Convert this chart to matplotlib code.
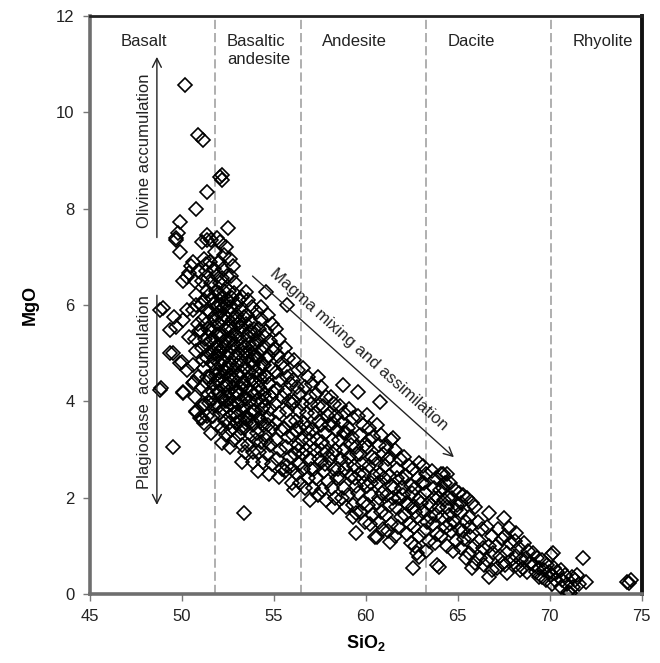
import numpy as np
import matplotlib
matplotlib.use("Agg")
import matplotlib.pyplot as plt

plt.rcParams['font.family'] = ['Liberation Sans', 'DejaVu Sans']
plt.rcParams['mathtext.fontset'] = 'custom'
plt.rcParams['mathtext.rm'] = 'Liberation Sans'
plt.rcParams['mathtext.bf'] = 'Liberation Sans:bold'

# (SiO2, MgO) pairs, grouped by compositional field
basalt = [
    (48.8, 5.89), (49.0, 5.93), (48.8, 4.23), (48.9, 4.27), (49.35, 5.0), (49.5, 5.0),
    (49.5, 3.05), (49.7, 7.39), (49.7, 7.34), (49.8, 7.5), (49.9, 7.72), (49.9, 7.1),
    (50.16, 10.56), (50.0, 4.81), (49.9, 4.8), (50.05, 4.17), (50.05, 4.19), (50.3, 6.58),
    (50.5, 6.8), (50.05, 6.5), (50.4, 6.66), (50.3, 5.9), (50.4, 5.33), (50.05, 5.68),
    (49.6, 5.75), (49.7, 5.54), (49.35, 5.48), (50.3, 4.65), (50.6, 4.38), (50.8, 8.0),
    (50.9, 9.52), (51.14, 9.42), (51.4, 8.34), (51.36, 7.45), (51.36, 7.34),
    (50.6, 6.9), (50.7, 6.5), (50.8, 6.2), (50.6, 5.9), (50.9, 5.6), (50.7, 5.3),
    (50.8, 5.05), (50.6, 4.75), (50.9, 4.5), (50.7, 4.1), (50.8, 3.8), (51.0, 3.65),
    (50.9, 6.7), (50.75, 6.0), (50.95, 5.45), (50.65, 4.4), (50.8, 3.78), (51.1, 3.65),
    (51.1, 7.3), (51.2, 6.95), (51.3, 6.7), (51.1, 6.5), (51.4, 6.3), (51.2, 6.1),
    (51.35, 5.9), (51.15, 5.7), (51.45, 5.5), (51.25, 5.3), (51.1, 5.1), (51.4, 4.9),
    (51.2, 4.7), (51.35, 4.5), (51.1, 4.3), (51.45, 4.15), (51.25, 3.95), (51.4, 3.7),
    (51.2, 3.55), (51.3, 6.85), (51.45, 6.55), (51.05, 6.0), (51.3, 5.6), (51.05, 5.45),
    (51.4, 5.2), (51.15, 4.85), (51.3, 4.4), (51.1, 3.9), (51.5, 3.96),
    (51.6, 7.35), (51.55, 6.9), (51.75, 6.75), (51.6, 6.45), (51.65, 6.15), (51.55, 5.85),
    (51.7, 5.55), (51.6, 5.25), (51.65, 4.8), (51.55, 4.5), (51.75, 4.35), (51.6, 4.05),
    (51.7, 3.7), (51.6, 3.35), (51.7, 5.0), (51.55, 5.45), (51.9, 7.38), (51.8, 7.1),
    (51.75, 6.05), (51.7, 5.3), (51.75, 4.9), (51.7, 4.2), (51.5, 6.2), (51.5, 5.0),
]

basaltic_andesite = [
    (51.9, 6.6), (51.85, 6.3), (51.95, 6.0), (51.8, 5.7), (51.9, 5.4), (51.8, 5.1),
    (51.95, 4.95), (51.85, 4.65), (51.95, 4.2), (51.8, 3.9), (51.9, 3.5), (51.85, 5.95),
    (51.9, 4.45), (51.85, 5.8), (51.9, 5.15), (51.85, 4.55),
    (52.17, 8.69), (52.2, 8.59), (52.1, 8.65), (52.5, 7.6), (52.3, 7.03), (52.1, 7.3),
    (52.4, 7.2), (52.05, 6.9), (52.25, 6.75), (52.45, 6.6), (52.1, 6.45), (52.3, 6.3),
    (52.15, 6.15), (52.4, 6.0), (52.05, 5.85), (52.25, 5.7), (52.45, 5.55), (52.1, 5.4),
    (52.35, 5.25), (52.2, 5.1), (52.45, 4.95), (52.05, 4.8), (52.3, 4.65), (52.15, 4.5),
    (52.4, 4.35), (52.05, 4.2), (52.25, 4.05), (52.45, 3.9), (52.1, 3.75), (52.35, 3.6),
    (52.2, 3.45), (52.2, 3.13), (52.4, 3.3), (52.3, 5.95), (52.1, 5.05), (52.4, 4.6),
    (52.2, 6.55), (52.35, 5.5), (52.05, 4.45), (52.25, 3.85),
    (52.0, 6.25), (52.15, 6.0), (52.3, 5.8), (52.0, 5.6), (52.2, 5.35), (52.4, 5.15),
    (52.0, 5.0), (52.25, 4.85), (52.45, 4.7), (52.1, 4.6), (52.3, 4.3), (52.15, 4.1),
    (52.4, 4.0), (52.0, 3.9),
    (52.8, 6.8), (52.6, 6.95), (52.7, 6.6), (52.9, 6.45), (52.55, 6.3), (52.75, 6.15),
    (52.95, 6.0), (52.6, 5.85), (52.8, 5.7), (52.65, 5.55), (52.9, 5.4), (52.55, 5.25),
    (52.75, 5.1), (52.95, 4.95), (52.6, 4.8), (52.85, 4.65), (52.7, 4.5), (52.55, 4.35),
    (52.9, 4.2), (52.65, 4.05), (52.8, 3.9), (52.6, 3.7), (52.95, 3.55), (52.7, 3.4),
    (52.85, 3.2), (52.6, 3.05), (52.7, 5.3), (52.85, 6.25), (52.6, 4.55), (52.95, 5.75),
    (52.8, 4.3),
    (52.5, 6.1), (52.65, 5.95), (52.5, 5.7), (52.7, 5.45), (52.85, 5.2), (52.5, 5.0),
    (52.65, 4.7), (52.85, 4.45), (52.5, 4.2), (52.7, 3.95), (52.9, 3.75), (52.55, 3.55),
    (53.3, 6.16), (53.5, 6.27), (53.1, 6.1), (53.2, 5.9), (53.4, 5.75), (53.05, 5.6),
    (53.3, 5.45), (53.15, 5.3), (53.45, 5.15), (53.05, 5.0), (53.25, 4.85), (53.4, 4.7),
    (53.1, 4.55), (53.35, 4.4), (53.2, 4.25), (53.45, 4.1), (53.05, 3.95), (53.3, 3.8),
    (53.15, 3.6), (53.4, 3.45), (53.1, 3.3), (53.3, 3.1), (53.3, 2.74), (53.45, 2.95),
    (53.4, 1.68), (53.2, 5.55), (53.35, 5.0), (53.1, 4.15), (53.45, 3.65),
    (53.0, 5.8), (53.15, 5.65), (53.0, 5.35), (53.25, 5.15), (53.0, 4.75), (53.2, 4.6),
    (53.3, 4.35), (53.0, 4.2), (53.2, 4.0), (53.4, 3.9), (53.0, 3.7), (53.25, 3.45),
    (53.6, 6.1), (53.8, 5.95), (53.55, 5.8), (53.75, 5.65), (53.95, 5.5), (53.6, 5.35),
    (53.85, 5.2), (53.7, 5.05), (53.55, 4.9), (53.9, 4.75), (53.65, 4.6), (53.8, 4.45),
    (53.55, 4.3), (53.95, 4.15), (53.7, 4.0), (53.85, 3.8), (53.6, 3.65), (53.9, 3.5),
    (53.75, 3.3), (53.6, 3.1), (53.85, 2.95), (53.9, 2.74), (53.7, 5.45), (53.95, 4.95),
    (53.5, 5.6), (53.65, 5.2), (53.5, 5.0), (53.8, 4.85), (53.6, 4.45), (53.75, 4.2),
    (53.5, 4.05), (53.7, 3.75), (53.5, 3.55), (53.8, 3.6),
    (54.1, 5.85), (54.3, 5.7), (54.2, 5.5), (54.45, 5.35), (54.05, 5.2), (54.3, 5.05),
    (54.15, 4.9), (54.4, 4.75), (54.05, 4.6), (54.3, 4.45), (54.2, 4.3), (54.45, 4.15),
    (54.1, 4.0), (54.35, 3.85), (54.2, 3.65), (54.45, 3.5), (54.1, 3.35), (54.3, 3.15),
    (54.2, 2.95), (54.4, 2.75), (54.15, 2.55), (54.3, 5.95), (54.25, 4.55),
    (54.0, 5.4), (54.15, 5.25), (54.0, 4.95), (54.25, 4.7), (54.0, 4.4), (54.15, 4.2),
    (54.35, 4.0), (54.0, 3.8), (54.3, 3.6), (54.05, 3.2),
    (54.6, 6.27), (54.7, 5.8), (54.9, 5.6), (54.6, 5.45), (54.8, 5.25), (54.95, 5.05),
    (54.65, 4.9), (54.85, 4.7), (54.55, 4.55), (54.75, 4.35), (54.95, 4.2), (54.6, 4.05),
    (54.8, 3.85), (54.7, 3.65), (54.9, 3.45), (54.55, 3.3), (54.8, 3.1), (54.65, 2.9),
    (54.9, 2.7), (54.75, 2.5),
    (54.5, 5.15), (54.7, 4.95), (54.5, 4.75), (54.65, 4.5), (54.85, 4.1), (54.5, 3.9),
    (54.7, 3.5), (54.6, 3.2),
    (55.1, 5.5), (55.3, 5.3), (55.05, 5.1), (55.25, 4.95), (55.45, 4.8), (55.1, 4.6),
    (55.35, 4.45), (55.2, 4.25), (55.45, 4.1), (55.05, 3.95), (55.3, 3.75), (55.15, 3.55),
    (55.4, 3.4), (55.1, 3.2), (55.35, 3.0), (55.2, 2.8), (55.3, 2.43), (55.45, 2.6),
    (55.7, 6.0), (55.6, 5.1), (55.8, 4.9), (55.55, 4.7), (55.75, 4.5), (55.95, 4.35),
    (55.6, 4.2), (55.85, 4.0), (55.7, 3.8), (55.9, 3.6), (55.55, 3.45), (55.8, 3.25),
    (55.65, 3.05), (55.9, 2.85), (55.75, 2.65), (56.0, 2.3), (55.6, 2.55),
    (56.1, 4.85), (56.3, 4.65), (56.05, 4.45), (56.25, 4.3), (56.45, 4.15), (56.1, 4.0),
    (56.35, 3.8), (56.2, 3.6), (56.45, 3.45), (56.05, 3.3), (56.3, 3.1), (56.15, 2.9),
    (56.4, 2.7), (56.25, 2.5), (56.45, 2.3), (56.1, 2.15),
    (56.0, 3.95), (56.2, 3.4), (56.4, 3.0), (56.0, 2.6),
]

andesite = [
    (56.6, 4.7), (56.85, 4.5), (56.7, 4.3), (56.95, 4.1), (56.55, 3.95), (56.8, 3.75),
    (56.65, 3.55), (56.9, 3.35), (56.55, 3.2), (56.75, 3.0), (56.95, 2.8), (56.6, 2.6),
    (56.85, 2.4), (56.7, 2.2), (56.96, 1.95), (56.8, 3.45), (56.6, 2.9),
    (57.4, 4.5), (57.1, 4.35), (57.3, 4.15), (57.05, 3.95), (57.25, 3.75), (57.45, 3.6),
    (57.1, 3.4), (57.35, 3.2), (57.2, 3.0), (57.45, 2.8), (57.05, 2.6), (57.3, 2.4),
    (57.15, 2.2), (57.4, 2.05), (57.0, 3.2), (57.2, 2.6), (57.4, 3.9),
    (57.6, 4.3), (57.85, 4.1), (57.7, 3.9), (57.95, 3.7), (57.55, 3.5), (57.8, 3.35),
    (57.65, 3.15), (57.9, 2.95), (57.55, 2.75), (57.75, 2.55), (57.95, 2.35), (57.65, 2.15),
    (57.85, 1.95), (57.6, 3.0), (57.8, 2.7),
    (58.1, 4.1), (58.3, 3.95), (58.05, 3.75), (58.25, 3.55), (58.45, 3.4), (58.15, 3.2),
    (58.35, 3.0), (58.05, 2.8), (58.3, 2.6), (58.45, 2.4), (58.15, 2.2), (58.35, 2.0),
    (58.2, 1.8), (58.0, 3.5), (58.2, 2.9), (58.4, 3.7),
    (58.75, 4.34), (58.6, 3.9), (58.85, 3.75), (58.7, 3.55), (58.95, 3.35), (58.55, 3.2),
    (58.8, 3.0), (58.65, 2.8), (58.9, 2.6), (58.6, 2.4), (58.85, 2.2), (58.7, 2.0),
    (58.95, 1.8), (58.5, 2.6), (58.8, 3.35),
    (59.57, 4.19), (59.1, 3.85), (59.3, 3.65), (59.05, 3.45), (59.25, 3.25), (59.45, 3.05),
    (59.1, 2.85), (59.35, 2.65), (59.2, 2.45), (59.45, 2.25), (59.05, 2.05), (59.3, 1.85),
    (59.5, 1.68), (59.3, 1.6), (59.5, 1.27), (59.0, 2.7), (59.2, 3.1), (59.4, 2.4),
    (60.1, 3.71), (59.6, 3.7), (59.85, 3.5), (59.7, 3.3), (59.95, 3.1), (59.55, 2.9),
    (59.8, 2.7), (59.65, 2.5), (59.9, 2.3), (59.6, 2.1), (59.85, 1.9), (59.7, 1.7),
    (59.95, 1.5), (59.7, 2.9), (59.9, 2.5),
    (60.76, 3.98), (60.2, 3.45), (60.4, 3.25), (60.1, 3.05), (60.35, 2.85), (60.2, 2.65),
    (60.45, 2.45), (60.05, 2.25), (60.3, 2.05), (60.15, 1.85), (60.4, 1.65), (60.25, 1.45),
    (60.5, 1.18), (60.2, 3.2), (60.3, 2.3), (60.5, 2.8),
    (60.6, 3.5), (60.85, 3.3), (60.7, 3.1), (60.95, 2.9), (60.55, 2.7), (60.8, 2.5),
    (60.65, 2.3), (60.9, 2.1), (60.6, 1.9), (60.85, 1.7), (60.7, 1.5), (60.6, 1.18),
    (60.95, 1.35), (60.7, 2.0),
    (61.47, 3.24), (61.4, 3.2), (61.1, 3.05), (61.3, 2.85), (61.05, 2.65), (61.25, 2.45),
    (61.45, 2.25), (61.15, 2.05), (61.35, 1.85), (61.1, 1.65), (61.4, 1.45), (61.3, 1.08),
    (61.2, 1.3), (61.0, 2.4), (61.2, 2.8),
    (61.6, 3.0), (61.85, 2.8), (61.7, 2.6), (61.95, 2.4), (61.55, 2.2), (61.8, 2.0),
    (61.65, 1.8), (61.9, 1.6), (61.75, 1.4), (61.6, 1.2), (61.5, 2.0), (61.7, 2.4),
    (62.1, 2.85), (62.35, 2.65), (62.2, 2.45), (62.45, 2.25), (62.05, 2.05), (62.3, 1.85),
    (62.15, 1.65), (62.4, 1.45), (62.25, 1.25), (62.45, 1.05), (62.0, 2.2), (62.2, 1.9),
    (62.9, 2.72), (62.6, 2.6), (62.85, 2.4), (62.7, 2.2), (62.95, 2.0), (62.55, 1.8),
    (62.8, 1.6), (62.65, 1.4), (62.9, 1.2), (62.55, 0.54), (62.9, 0.77), (62.8, 0.85),
    (62.7, 1.0), (62.5, 2.1), (62.7, 1.7),
    (63.1, 2.65), (63.05, 2.3), (63.25, 2.1), (63.1, 1.7), (63.2, 1.3), (63.0, 1.9),
    (63.2, 2.3),
]

dacite = [
    (63.3, 2.5), (63.45, 1.9), (63.35, 1.5), (63.45, 1.1), (63.9, 0.6), (63.3, 0.9),
    (63.6, 2.55), (63.85, 2.4), (63.7, 2.2), (63.95, 2.0), (63.55, 1.85), (63.8, 1.65),
    (63.65, 1.45), (63.9, 1.25), (63.75, 1.05), (64.0, 0.56), (63.5, 1.6), (63.7, 2.0),
    (64.1, 2.5), (64.2, 2.5), (64.4, 2.5), (64.3, 2.3), (64.05, 2.15), (64.25, 1.95),
    (64.45, 1.8), (64.15, 1.6), (64.35, 1.4), (64.1, 1.2), (64.4, 1.0), (64.0, 1.8),
    (64.2, 2.2),
    (64.6, 2.3), (64.85, 2.15), (64.7, 2.0), (64.95, 1.85), (64.55, 1.65), (64.8, 1.5),
    (64.65, 1.3), (64.9, 1.1), (64.75, 0.9), (64.5, 2.0), (64.6, 1.45), (64.9, 1.75),
    (65.1, 2.1), (65.3, 2.05), (65.5, 2.0), (65.2, 1.7), (65.45, 1.5), (65.1, 1.35),
    (65.35, 1.15), (65.2, 0.95), (65.45, 0.75), (65.2, 1.9), (65.3, 1.3),
    (65.8, 1.9), (65.65, 1.39), (65.95, 1.8), (65.7, 1.2), (65.9, 1.0), (65.6, 0.85),
    (65.8, 0.54), (65.95, 0.65), (65.6, 1.6),
    (66.1, 1.5), (66.3, 1.35), (66.15, 1.1), (66.4, 0.95), (66.2, 0.75), (66.45, 0.6),
    (66.7, 1.68), (66.6, 1.4), (66.85, 1.2), (66.7, 1.0), (66.95, 0.85), (66.6, 0.7),
    (66.7, 0.35), (66.85, 0.5),
    (67.2, 1.35), (67.4, 1.15), (67.1, 1.0), (67.3, 0.8), (67.45, 0.65), (67.15, 0.55),
    (67.55, 1.58), (67.8, 1.37), (67.6, 1.2), (67.85, 1.05), (67.7, 0.85), (67.9, 0.7),
    (67.7, 0.44), (67.6, 0.6),
    (68.2, 1.27), (68.1, 1.1), (68.35, 0.95), (68.2, 0.8), (68.45, 0.7), (68.15, 0.6),
    (68.4, 0.5),
    (68.6, 1.05), (68.85, 0.9), (68.7, 0.75), (68.95, 0.65), (68.55, 0.55), (68.8, 0.45),
    (69.1, 0.85), (69.3, 0.75), (69.15, 0.6), (69.4, 0.55), (69.25, 0.45), (69.45, 0.35),
    (69.6, 0.7), (69.85, 0.6), (69.7, 0.5), (69.95, 0.45), (69.6, 0.35), (69.8, 0.3),
    (70.1, 0.81),
]

rhyolite = [
    (70.2, 0.85), (70.25, 0.55), (70.1, 0.4), (70.4, 0.45), (70.3, 0.3), (70.15, 0.2),
    (70.6, 0.5), (70.85, 0.4), (70.7, 0.3), (70.95, 0.2), (70.6, 0.15), (71.0, 0.04),
    (71.1, 0.02), (71.2, 0.35), (71.4, 0.3), (71.3, 0.15), (71.5, 0.4),
    (71.8, 0.75), (72.0, 0.25), (71.6, 0.2), (74.2, 0.25), (74.45, 0.29), (74.3, 0.22),
]

field_bounds = [51.8, 56.5, 63.3, 70.1]
field_names = ["Basalt", "Basaltic\nandesite", "Andesite", "Dacite", "Rhyolite"]
field_label_x = [46.7, 52.45, 57.65, 64.45, 71.25]

pts = np.array(basalt + basaltic_andesite + andesite + dacite + rhyolite)

fig = plt.figure(figsize=(6.6, 6.63), dpi=100)
ax = fig.add_axes([0.136, 0.104, 0.836, 0.872])

for xb in field_bounds:
    ax.axvline(xb, color='#9a9a9a', lw=1.1, dashes=(6, 2.6), zorder=1)

ax.plot(pts[:, 0], pts[:, 1], 'D', mfc='none', mec='black', ms=7.6, mew=1.2, zorder=3)

for name, xl in zip(field_names, field_label_x):
    ax.text(xl, 11.62, name, ha='left', va='top', fontsize=12, color='#222222',
            linespacing=1.25)

# accumulation arrows
arrow = dict(arrowstyle='->', lw=1.0, color='#222222', mutation_scale=16, shrinkA=0, shrinkB=0)
ax.annotate('', xy=(48.65, 11.15), xytext=(48.65, 7.4), arrowprops=arrow)
ax.annotate('', xy=(48.65, 1.85), xytext=(48.65, 6.2), arrowprops=arrow)
ax.annotate('', xy=(64.8, 2.84), xytext=(53.85, 6.6), arrowprops=arrow)

ax.text(48.0, 9.2, "Olivine accumulation", rotation=90, ha='center', va='center',
        fontsize=12, color='#222222')
ax.text(48.0, 4.2, "Plagioclase  accumulation", rotation=90, ha='center', va='center',
        fontsize=12, color='#222222')
ax.text(54.75, 6.62, "Magma mixing and assimilation", rotation=-42, rotation_mode='anchor',
        ha='left', va='baseline', fontsize=12, color='#222222')

ax.set_xlim(45, 75)
ax.set_ylim(0, 12)
ax.set_xticks([45, 50, 55, 60, 65, 70, 75])
ax.set_yticks([0, 2, 4, 6, 8, 10, 12])
ax.tick_params(direction='out', length=5, width=1, color='#777777', labelsize=12,
               labelcolor='#222222', pad=6)
ax.set_xlabel(r'$\mathbf{SiO_2}$', fontsize=13, labelpad=6)
ax.set_ylabel('MgO', fontsize=13, fontweight='bold', labelpad=12)

for side in ['left', 'bottom']:
    ax.spines[side].set_color('#6e6e6e')
    ax.spines[side].set_linewidth(2.6)
ax.spines['top'].set_color('#222222')
ax.spines['top'].set_linewidth(2.0)
ax.spines['right'].set_color('#111111')
ax.spines['right'].set_linewidth(2.8)

fig.savefig('out.png', dpi=100)
